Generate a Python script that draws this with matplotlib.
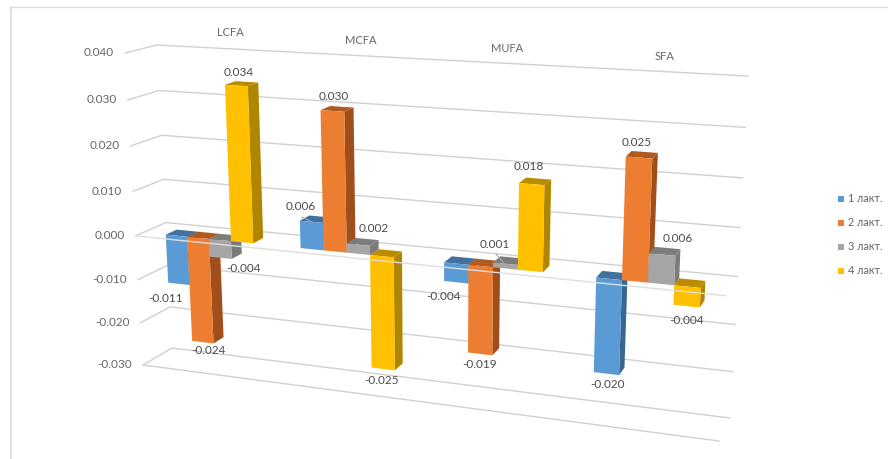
import matplotlib
matplotlib.use("Agg")
import matplotlib.pyplot as plt
import numpy as np

plt.rcParams['font.family'] = ['Lato', 'DejaVu Sans']

categories = ['LCFA', 'MCFA', 'MUFA', 'SFA']
series = ['1 лакт.', '2 лакт.', '3 лакт.', '4 лакт.']
lact1 = [-0.011, 0.006, -0.004, -0.020]
lact2 = [-0.024, 0.030, -0.019, 0.025]
lact3 = [-0.004, 0.002, 0.001, 0.006]
lact4 = [0.034, -0.025, 0.018, -0.004]
ticks = [0.040, 0.030, 0.020, 0.010, 0.000, -0.010, -0.020, -0.030]

# front, side, top shades per series
colors = [('#5B9BD5', '#36688F', '#41719C'),
          ('#ED7D31', '#A04F1C', '#AE5A21'),
          ('#A5A5A5', '#7B7B7B', '#7C7C7C'),
          ('#FFC000', '#B08500', '#BC8C00')]

# corners of the 3d box on the canvas, (across, depth, top/bottom)
BOX = {(0, 0, 0): (157, 45), (1, 0, 0): (748, 76),
       (0, 0, 1): (172, 348), (1, 0, 1): (730, 418),
       (0, 1, 0): (125, 53), (1, 1, 0): (735, 90),
       (0, 1, 1): (143, 365), (1, 1, 1): (719, 441)}


def project(p, d, v):
    # p across the categories, d from back wall to front, v the value
    w = p - 0.118 * p * (1 - p)
    s = (0.040 - v) / 0.070
    t = s + 0.06 * s * (1 - s)
    x = y = 0
    for (a, b, c), (bx, by) in BOX.items():
        k = (w if a else 1 - w) * (d if b else 1 - d) * (t if c else 1 - t)
        x += k * bx
        y += k * by
    return x, y


def face(ax, pts, color, z):
    ax.fill(*zip(*pts), color=color, lw=0, zorder=z)


fig = plt.figure(figsize=(8.88, 4.59), dpi=100)
ax = fig.add_axes([0, 0, 1, 1])
ax.set_xlim(0, 888)
ax.set_ylim(459, 0)
ax.axis('off')

# frame shows on the top and left only
ax.plot([888, 11], [7, 7], color='#dcdcdc', lw=1)
ax.plot([11, 11], [7, 459], color='#e2e2e2', lw=1.5)

# walls and value labels
for v in ticks:
    ax.plot(*zip(project(0, 1, v), project(0, 0, v), project(1, 0, v)),
            color='#d0d0d0', lw=1, zorder=1)
    fx, fy = project(0, 1, v)
    ax.text(fx - 11, fy, '%.3f' % v, ha='right', va='center', fontsize=8.5, color='#666666')
ax.plot(*zip(project(0, 1, -0.030), project(1, 1, -0.030)), color='#d0d0d0', lw=1, zorder=1)

BAR = 0.041
D0, D1 = 0.37, 0.74
z = 2
for i, vals in enumerate(zip(lact1, lact2, lact3, lact4)):
    left = 0.125 + i * 0.25 - 2 * BAR
    for j, v in enumerate(vals):
        p0, p1 = left + j * BAR, left + (j + 1) * BAR
        hi, lo = max(v, 0), min(v, 0)
        front, side, top = colors[j]
        face(ax, [project(p1, D1, hi), project(p1, D0, hi), project(p1, D0, lo), project(p1, D1, lo)], side, z)
        face(ax, [project(p0, D1, hi), project(p0, D0, hi), project(p1, D0, hi), project(p1, D1, hi)], top, z)
        face(ax, [project(p0, D1, hi), project(p1, D1, hi), project(p1, D1, lo), project(p0, D1, lo)], front, z)
        z += 1

# floor edge at zero runs over the bars
ax.plot(*zip(project(0, 1, 0), project(1, 1, 0)), color='#dedede', lw=1, zorder=z)

# category names along the top
for name, x, y in zip(categories, [230, 361, 507, 665], [33, 40, 48, 57]):
    ax.text(x, y, name, ha='center', va='center', fontsize=8, color='#666666')

# data labels
label_x = [[166, 301, 444, 608], [208, 334, 480, 637], [244, 374, 495, 678], [239, 382, 529, 687]]
label_y = [[298, 206, 296, 385], [350, 97, 365, 142], [269, 229, 244, 239], [72, 381, 166, 320]]
for vals, xs, ys in zip((lact1, lact2, lact3, lact4), label_x, label_y):
    for v, x, y in zip(vals, xs, ys):
        ax.text(x, y, '%.3f' % v, ha='center', va='center', fontsize=8.5, color='#4a4a4a', zorder=z + 1)

# leader lines for the two small bars
ax.plot([302, 312], [217, 222], color='#a6a6a6', lw=0.8, zorder=z)
ax.plot([496, 503], [254, 262], color='#a6a6a6', lw=0.8, zorder=z)

# legend
for name, c, y in zip(series, colors, [199, 223, 247, 271]):
    ax.fill([838, 844, 844, 838], [y - 3, y - 3, y + 3, y + 3], color=c[0], lw=0)
    ax.text(848, y, name, ha='left', va='center', fontsize=7.8, color='#666666')

fig.savefig('out.png', dpi=100)
